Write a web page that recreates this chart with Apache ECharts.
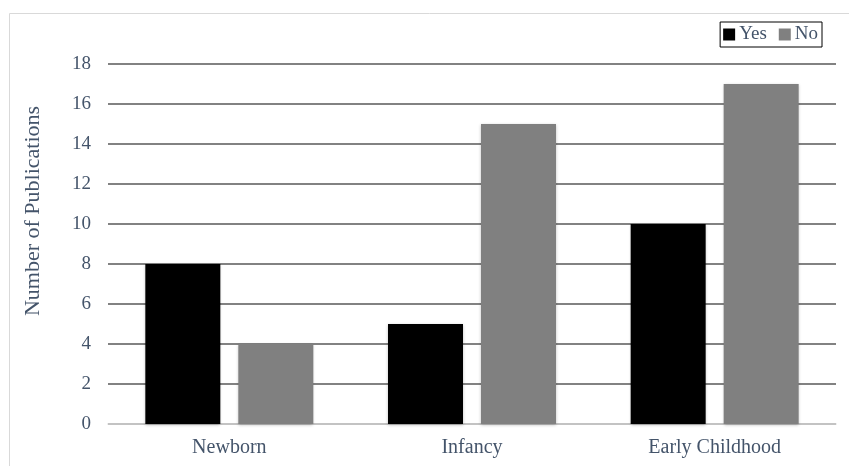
<!DOCTYPE html>
<html>
<head>
<meta charset="utf-8">
<script src="https://cdn.jsdelivr.net/npm/echarts@6/dist/echarts.min.js"></script>
<style>html,body{margin:0;padding:0;background:#fff}#c{width:849px;height:466px}</style>
</head>
<body>
<div id="c"></div>
<script>
const categories = ['Newborn', 'Infancy', 'Early Childhood'];
const yesValues = [8, 5, 10];
const noValues = [4, 15, 17];
const seriesNames = ['Yes', 'No'];
const yAxisTitle = 'Number of Publications';

const font = '"Liberation Serif", "Times New Roman", serif';
const txt = '#44546a';
const chart = echarts.init(document.getElementById('c'));
chart.setOption({
  animation: false,
  textStyle: { fontFamily: font },
  graphic: [{
    type: 'rect', shape: { x: 9.5, y: 13.5, width: 860, height: 470 },
    style: { fill: 'none', stroke: '#d9d9d9', lineWidth: 1 }, silent: true, z: 0
  }, {
    type: 'text', x: 33, y: 211, rotation: Math.PI / 2,
    style: { text: yAxisTitle, fill: txt, font: '22px "Liberation Serif", serif',
      textAlign: 'center', textVerticalAlign: 'middle' }, silent: true
  }],
  legend: {
    right: 27, top: 22,
    data: seriesNames,
    borderColor: '#000', borderWidth: 1, borderRadius: 0,
    padding: [3, 4, 3, 3],
    itemWidth: 12, itemHeight: 12, itemGap: 12,
    icon: 'rect',
    textStyle: { color: txt, fontSize: 19, fontFamily: font, padding: [0, 0, 0, -1] }
  },
  grid: { left: 108, right: 13, top: 64, bottom: 42 },
  xAxis: {
    type: 'category', data: categories,
    axisLine: { lineStyle: { color: '#d9d9d9', width: 1.5 } },
    axisTick: { show: false },
    axisLabel: { color: txt, fontSize: 20, fontFamily: font, margin: 14 }
  },
  yAxis: {
    type: 'value', min: 0, max: 18, interval: 2,
    axisLine: { show: false }, axisTick: { show: false },
    axisLabel: { color: txt, fontSize: 19, fontFamily: font, margin: 17 },
    splitLine: { lineStyle: { color: '#595959', width: 1.5 } }
  },
  series: [
    { name: seriesNames[0], type: 'bar', data: yesValues, barWidth: 75, barGap: '24%',
      itemStyle: { color: '#000000', shadowColor: 'rgba(0,0,0,0.25)', shadowBlur: 3, shadowOffsetY: 1 } },
    { name: seriesNames[1], type: 'bar', data: noValues, barWidth: 75, barGap: '24%',
      itemStyle: { color: '#808080', shadowColor: 'rgba(0,0,0,0.25)', shadowBlur: 3, shadowOffsetY: 1 } }
  ]
});
</script>
</body>
</html>
